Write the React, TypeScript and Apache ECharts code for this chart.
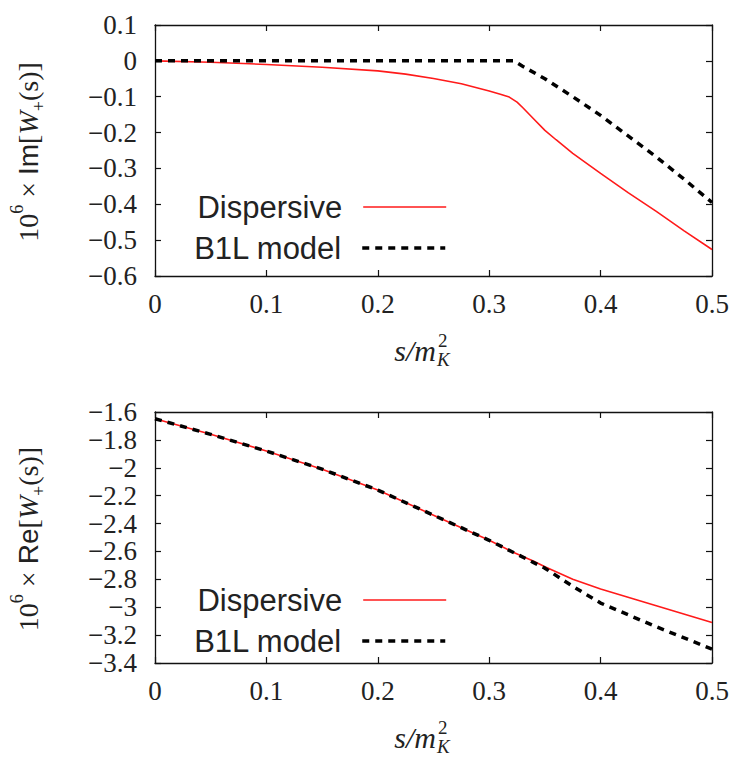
import React, { useEffect, useRef } from "react";
import * as echarts from "echarts";

// ---- data ----
const imDispX = [0, 0.05, 0.1, 0.15, 0.2, 0.225, 0.25, 0.275, 0.3, 0.31, 0.318, 0.325, 0.33, 0.34, 0.35, 0.36, 0.375, 0.4, 0.425, 0.45, 0.475, 0.5];
const imDispY = [0, -0.004, -0.01, -0.018, -0.028, -0.037, -0.049, -0.064, -0.084, -0.093, -0.101, -0.115, -0.13, -0.162, -0.194, -0.22, -0.258, -0.314, -0.368, -0.42, -0.474, -0.526];
const imB1LX = [0, 0.1, 0.2, 0.3, 0.322, 0.33, 0.35, 0.375, 0.4, 0.425, 0.45, 0.475, 0.5];
const imB1LY = [0, 0, 0, 0, 0, -0.015, -0.05, -0.1, -0.152, -0.21, -0.268, -0.33, -0.395];

const reDispX = [0, 0.05, 0.1, 0.15, 0.2, 0.25, 0.3, 0.32, 0.34, 0.35, 0.375, 0.4, 0.45, 0.5];
const reDispY = [-1.648, -1.76, -1.88, -2.01, -2.16, -2.34, -2.52, -2.6, -2.67, -2.71, -2.8, -2.87, -2.99, -3.11];
const reB1LX = [0, 0.05, 0.1, 0.15, 0.2, 0.25, 0.3, 0.32, 0.34, 0.35, 0.375, 0.4, 0.45, 0.5];
const reB1LY = [-1.648, -1.76, -1.88, -2.01, -2.16, -2.34, -2.52, -2.6, -2.68, -2.72, -2.85, -2.97, -3.14, -3.3];

const seriesNames = ["Dispersive", "B1L model"];
const xTitle = ["s/m", "2", "K"];

const zip = (xs: number[], ys: number[]) => xs.map((x, i) => [x, ys[i]]);

const SERIF = "'Liberation Serif', 'DejaVu Serif', serif";
const SANS = "'Liberation Sans', Arial, sans-serif";
const TXT = "#222";
const RED = "#ff1a1a";

const fmt = (v: number) => {
  const s = String(parseFloat(v.toFixed(2)));
  return s.replace("-", "\u2212");
};

function makeAxes(gridIndex: number, min: number, max: number, interval: number, isX: boolean) {
  const common = {
    gridIndex,
    type: "value" as const,
    min,
    max,
    interval,
    splitLine: { show: false },
    axisLine: { show: true, onZero: false, lineStyle: { color: "#111", width: 1.3 } },
    axisTick: { show: true, inside: true, length: 6, lineStyle: { color: "#111", width: 1.2 } },
  };
  return [
    {
      ...common,
      position: isX ? "bottom" : "left",
      axisLabel: {
        show: true,
        formatter: fmt,
        fontFamily: SERIF,
        fontSize: 27,
        lineHeight: 24,
        color: TXT,
        margin: isX ? 16 : 18,
      },
    },
    {
      ...common,
      position: isX ? "top" : "right",
      axisLabel: { show: false },
    },
  ];
}

export default function App() {
  const ref = useRef<HTMLDivElement>(null);
  useEffect(() => {
    if (!ref.current) return;
    const chart = echarts.init(ref.current, null, { renderer: "svg" });

    const legendBase = (name: string, top: number, dashed: boolean) => ({
      data: [name],
      right: 287,
      top,
      orient: "vertical" as const,
      align: "right" as const,
      padding: 0,
      itemWidth: 83,
      itemHeight: 14,
      selectedMode: false,
      itemStyle: { opacity: 0 },
      lineStyle: dashed
        ? { width: 3.5, color: "#000", type: [7, 6] }
        : { width: 1.6, color: RED },
      textStyle: { fontSize: 31, fontFamily: SANS, color: TXT, lineHeight: 34, padding: [0, 16, 0, 0] },
    });

    const yTitle = (label: string, cx: number, cy: number) => ({
      type: "text",
      x: cx,
      y: cy,
      rotation: Math.PI / 2,
      style: {
        text: `{n|10}{sup|6}{n| \u00d7 }{sans|${label}}{n|[}{it|W}{sub|+}{n|(s)]}`,
        align: "center",
        verticalAlign: "middle",
        fill: TXT,
        rich: {
          n: { fontFamily: SERIF, fontSize: 28, lineHeight: 40, verticalAlign: "middle" },
          sans: { fontFamily: SANS, fontSize: 28, lineHeight: 40, verticalAlign: "middle" },
          it: { fontFamily: SERIF, fontStyle: "italic", fontSize: 28, lineHeight: 40, verticalAlign: "middle" },
          sup: { fontFamily: SERIF, fontSize: 18, lineHeight: 40, verticalAlign: "top" },
          sub: { fontFamily: SERIF, fontSize: 18, lineHeight: 36, verticalAlign: "bottom" },
        },
      },
    });

    const xTitleGroup = (cx: number, cy: number) => ({
      type: "group",
      x: cx,
      y: cy,
      children: [
        {
          type: "text",
          x: 0,
          y: 0,
          style: { text: xTitle[0], fontFamily: SERIF, fontStyle: "italic", fontSize: 30, fill: TXT, align: "right", verticalAlign: "middle" },
        },
        {
          type: "text",
          x: 2,
          y: -10,
          style: { text: xTitle[1], fontFamily: SERIF, fontSize: 19, fill: TXT, align: "left", verticalAlign: "middle" },
        },
        {
          type: "text",
          x: 1,
          y: 9,
          style: { text: xTitle[2], fontFamily: SERIF, fontStyle: "italic", fontSize: 19, fill: TXT, align: "left", verticalAlign: "middle" },
        },
      ],
    });

    const option = {
      animation: false,
      backgroundColor: "#fff",
      grid: [
        { left: 155, right: 22, top: 25, height: 251 },
        { left: 155, right: 22, top: 412, height: 251 },
      ],
      xAxis: [...makeAxes(0, 0, 0.5, 0.1, true), ...makeAxes(1, 0, 0.5, 0.1, true)],
      yAxis: [...makeAxes(0, -0.6, 0.1, 0.1, false), ...makeAxes(1, -3.4, -1.6, 0.2, false)],
      legend: [
        legendBase(seriesNames[0], 190, false),
        legendBase(seriesNames[1], 231, true),
        legendBase(seriesNames[0], 583, false),
        legendBase(seriesNames[1], 624, true),
      ],
      series: [
        {
          name: seriesNames[0],
          type: "line",
          xAxisIndex: 0,
          yAxisIndex: 0,
          symbol: "none",
          data: zip(imDispX, imDispY),
          lineStyle: { color: RED, width: 1.6 },
          itemStyle: { color: RED },
          z: 3,
        },
        {
          name: seriesNames[1],
          type: "line",
          xAxisIndex: 0,
          yAxisIndex: 0,
          symbol: "none",
          data: zip(imB1LX, imB1LY),
          lineStyle: { color: "#000", width: 3.5, type: [7, 6] },
          itemStyle: { color: "#000" },
          z: 4,
        },
        {
          name: seriesNames[0],
          type: "line",
          xAxisIndex: 2,
          yAxisIndex: 2,
          symbol: "none",
          data: zip(reDispX, reDispY),
          lineStyle: { color: RED, width: 1.6 },
          itemStyle: { color: RED },
          z: 3,
        },
        {
          name: seriesNames[1],
          type: "line",
          xAxisIndex: 2,
          yAxisIndex: 2,
          symbol: "none",
          data: zip(reB1LX, reB1LY),
          lineStyle: { color: "#000", width: 3.5, type: [7, 6] },
          itemStyle: { color: "#000" },
          z: 4,
        },
      ],
      graphic: [
        yTitle("Im", 28, 152),
        yTitle("Re", 28, 539),
        xTitleGroup(436, 350),
        xTitleGroup(436, 737),
      ],
    };

    chart.setOption(option as any);
    return () => chart.dispose();
  }, []);

  return <div ref={ref} style={{ width: 734, height: 758, position: "absolute", left: 0, top: 0 }} />;
}
